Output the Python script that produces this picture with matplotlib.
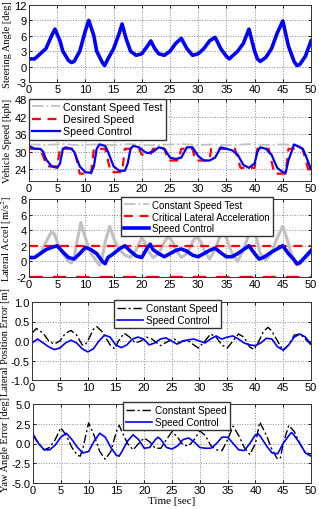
import matplotlib
matplotlib.use("Agg")
import matplotlib.pyplot as plt

plt.rcParams["font.family"] = "Liberation Sans"
plt.rcParams["axes.unicode_minus"] = False
plt.rcParams["mathtext.fontset"] = "stix"

# steering angle [deg]
t_steer = [0, 1, 2, 3, 4, 4.6, 5.5, 6, 7, 7.5, 8, 9, 10, 10.6, 11.5, 12, 13, 13.4, 14, 15, 16, 16.5,
           17.2, 18, 19, 20, 21, 21.6, 22.3, 23, 24, 25, 26, 27, 28, 29, 30, 31, 32, 33, 34, 35,
           35.5, 36, 37, 38, 39, 40, 40.5, 41, 42, 43, 44, 45, 46, 47, 47.5, 48, 49, 50]
steer = [1.5, 1.5, 2.5, 3.5, 6, 7.3, 5, 3, 1.2, 0.8, 1.0, 3, 7, 9, 6, 3, 0.8, 0.2, 1.5, 3.5, 6.5, 8.3,
         5.5, 3, 2.2, 2.5, 4, 5, 3.5, 2.5, 2.2, 3, 4.5, 5.5, 3.5, 2.2, 2.5, 3.5, 5, 5.7, 3.5, 2,
         1.5, 2, 3, 4.5, 7.3, 3, 1.5, 1.0, 1.8, 3.5, 6.5, 8.9, 4, 1, 0.2, 0.4, 2, 5]

# vehicle speed [kph]
t_const = [0, 3, 6, 9, 12, 15, 18, 21, 24, 27, 30, 33, 36, 39, 42, 45, 48, 49, 50]
v_const = [32.5, 32.3, 32.6, 32.2, 32.5, 32.3, 32.6, 32.2, 32.4, 32.6, 32.3, 32.5, 32.2, 32.6, 32.3, 32.5, 32.2, 30, 22]

t_des = [0, 2, 3.2, 5, 5.5, 8, 9, 11, 11.5, 13.5, 14.5, 16.5, 17, 19.5, 20, 21.5, 22, 24, 24.7, 26.5,
         27, 29, 29.5, 32, 32.3, 36.5, 37.5, 40, 40.5, 42.5, 43.5, 45.5, 46, 48.5, 49.5, 50]
v_des = [31, 31, 25, 25, 31, 31, 22.5, 22.5, 31, 31, 23, 23, 31, 31, 29, 29, 31, 31, 27, 27,
         31, 31, 27, 27, 31, 31, 24.5, 24.5, 31, 31, 22.5, 22.5, 31, 31, 24, 24]

t_ctrl = [0, 1, 2, 2.5, 3, 4, 5, 5.5, 6, 6.5, 7.5, 8, 9, 10, 11, 11.5, 12, 12.5, 13.5, 14, 15, 16, 17,
          17.5, 18, 18.5, 19.5, 20.5, 21, 22, 23, 24, 25, 26, 27, 28, 29, 30, 31, 32, 33, 34, 35,
          36, 37, 38, 39, 40, 40.5, 41, 42, 43, 44, 45, 45.5, 46, 47, 48, 48.5, 49, 50]
v_ctrl = [32, 31, 31, 30, 27.5, 25, 24.5, 26, 31, 31.5, 31, 30, 25, 23, 22.8, 25, 31, 32.5, 32, 30, 25, 23.5, 23.5,
          26, 31, 32, 31.5, 30, 29.5, 30, 31.5, 31, 28, 27.5, 28, 31.5, 31.5, 28.5, 27, 27, 28, 31.5, 31,
          30.5, 29, 25.5, 24.5, 26, 30, 31.5, 31, 29, 24.5, 23, 22.8, 27, 32.5, 31.5, 31, 29, 24]

# lateral acceleration [m/s^2]
t_acc_c = [0, 1, 2, 3, 4, 4.5, 5, 6, 7, 7.5, 8, 8.5, 9.2, 10, 11, 12, 12.5, 13, 13.5, 14.3, 15, 16, 17,
           18, 19, 20, 20.5, 21, 22, 23, 24, 24.7, 25.5, 26, 27, 28, 29, 29.7, 30.5, 31, 32, 33, 34,
           34.5, 35, 36, 37, 38, 39, 39.7, 40.5, 41, 42, 43, 44, 45, 45.7, 46.5, 47.5, 48, 49, 50]
acc_c = [0.3, 0.5, 1, 2.5, 3.8, 3.5, 2.5, 1, 0, -0.2, 0.5, 2.5, 5, 3, 1, 0, -0.5, 0.5, 2.5, 4.5, 3, 1.5, 0.8,
         0.5, 1.5, 3, 2.5, 1.5, 0.5, 1, 2.5, 3.2, 2.5, 1.5, 0.5, 1, 2.5, 3.2, 2.5, 1.5, 0.3, 1.5, 3.5,
         4.2, 3, 1, 0, 1.5, 3.5, 4.8, 2.5, 1, 0.2, 1, 3, 4.5, 3, 1, -0.5, 0, 0.5, 1]
t_acc = [0, 1, 2, 3, 4, 5, 6, 7, 8, 9, 10, 11, 12, 13, 13.5, 14, 15, 16, 17, 18, 19, 20, 21, 21.5, 22,
         23, 24, 25, 26, 27, 28, 29, 30, 31, 32, 33, 34, 35, 36, 37, 38, 39, 40, 40.8, 41.5, 42, 43,
         44, 45, 46, 47, 47.5, 48, 49, 50]
acc = [0.5, 0.5, 1, 1.5, 1.8, 2, 1.2, 0.5, 0.3, 1, 1.8, 1.5, 1, 0, -0.3, 0.5, 1, 1.6, 2, 1.3, 0.7, 0.5, 1.8, 2.2, 1.5,
       1, 0.6, 1, 1.4, 1.6, 1.3, 0.8, 0.6, 1, 1.4, 1.7, 1.1, 0.6, 0.6, 1, 1.5, 2, 1, 0.3, 0.5, 0.7, 1.2,
       1.6, 2, 1, 0.2, -0.3, -0.2, 0.6, 1.4]
acc_crit = 2.0

# lateral position error [m]
t_lpe_c = [0, 0.8, 2, 3, 4, 5, 6, 7, 8, 9, 9.5, 10, 11, 11.6, 12.5, 14, 14.8, 15.5, 16.5, 17.5, 18.5, 19.5,
           20.5, 21.5, 23, 24.5, 25.5, 26.5, 27, 28, 29, 29.8, 31, 32, 33, 34, 35, 36, 37, 38, 39, 39.8,
           40.5, 41.5, 42.3, 43, 44, 45, 46, 47, 48, 49, 50]
lpe_c = [0.2, 0.32, 0.2, 0, -0.08, 0, 0.2, 0.27, 0.15, -0.1, -0.1, 0, 0.3, 0.37, 0.25, -0.1, -0.2, 0, 0.2, 0.1, -0.05, 0,
         0.1, 0.05, -0.12, 0, 0.05, -0.05, 0, 0, -0.1, -0.18, 0, 0.18, 0.1, -0.1, -0.18, 0, 0.18, 0.1, -0.15, -0.22,
         -0.05, 0.25, 0.35, 0.25, 0, -0.25, -0.1, 0.15, 0.18, 0.05, -0.1]
t_lpe = list(range(0, 51))
lpe = [-0.05, 0.05, -0.05, -0.15, -0.22, -0.18, -0.05, 0.02, -0.05, -0.2, -0.28, -0.2, 0, 0.15, 0.1, -0.1, -0.17,
       -0.1, 0.05, 0.1, 0.05, -0.1, -0.05, 0.05, 0.08, 0, -0.08, 0, 0.03, 0.05, 0, -0.05, 0.05, 0.13, 0.05, 0.1,
       0.13, 0.05, -0.05, -0.1, -0.12, -0.05, 0.07, 0.05, -0.15, -0.23, -0.1, 0.1, 0.18, 0.1, -0.08]

# yaw angle error [deg]
t_yaw_c = [0, 1, 2, 3, 4, 5, 6, 7, 8, 8.5, 9, 10, 11, 12, 13, 14, 15, 15.5, 16, 17, 18, 19, 20, 21, 22, 23,
           24, 25, 26, 27, 28, 29, 30, 31, 32, 33, 34, 35, 36, 37, 38, 39, 40, 40.8, 42, 43, 44, 44.5, 45,
           46, 47, 48, 49, 50]
yaw_c = [1, 0, -0.8, -0.5, 0.5, 2, 1, -0.5, -1.5, -1.6, -0.5, 2.6, 1, -1, -2, -1, 1.5, 2.3, 1.5, 0, -0.8, 0, 0.7, 0.2,
         -0.6, -0.6, 0.5, 1.5, 0.8, -0.2, -0.3, 0.5, 1.6, 1, -0.3, -0.8, -0.9, 0.5, 2.2, 1, -0.5, -1.4, 0, 2.7, 1,
         -0.8, -2, -1.8, 0, 2.3, 1.5, 0, -1.2, -1.3]
t_yaw = [0, 1, 2, 3, 4, 5, 6, 7, 8, 9, 10, 11, 12, 13, 14, 15, 15.5, 16, 17, 18, 19, 20, 21, 22, 22.5, 23, 24,
         25, 26, 27, 28, 29, 30, 31, 32, 33, 34, 35, 36, 37, 38, 39, 40, 40.5, 41, 42, 43, 44, 45, 46, 46.5,
         47, 48, 49, 50]
yaw = [1.2, 0, -0.8, -0.8, -0.2, 0.8, 1.3, 0.5, -0.5, -1.2, -1, 0.3, 1.3, 0.8, -0.5, -1.5, -1.6, -1, 0.3, 1.1, 0.5,
       -0.6, -0.5, 0.5, 0.8, 0.5, -0.5, -0.7, -0.3, 0.5, 0.7, 0.2, -0.5, -0.6, -0.6, 0, 0.8, 0.8, 0, -0.8, -0.9, 0,
       1.1, 1.2, 0.8, -0.3, -1.2, -1.3, 0, 1, 1.4, 1, 0, -1.2, -1.6]

W, H = 319, 510
fig = plt.figure(figsize=(W / 100, H / 100), dpi=100)


def make_ax(left, top, bottom, right=311):
    return fig.add_axes([left / W, (H - bottom) / H, (right - left) / W, (bottom - top) / H])


def style(ax, ylim, yticks, label, label_x, ytick_fmt=None):
    ax.set_xlim(0, 50)
    ax.set_xticks(range(0, 51, 5))
    ax.set_ylim(*ylim)
    ax.set_yticks(yticks)
    if ytick_fmt:
        ax.set_yticklabels([ytick_fmt % v for v in yticks])
    ax.tick_params(direction="in", top=True, right=True, labelsize=8, length=2.5, width=0.6, pad=1.5)
    ax.grid(True, color="#888888", linestyle=":", linewidth=0.7)
    for s in ax.spines.values():
        s.set_linewidth(0.7)
        s.set_color("#333333")
    ax.set_ylabel(label, family="Liberation Serif", fontsize=7.5)
    bb = ax.get_position()
    ax.yaxis.set_label_coords(label_x / W, (bb.y0 + bb.y1) / 2, transform=fig.transFigure)


def legend_kw(size):
    return dict(fontsize=size, fancybox=False, edgecolor="#333333", framealpha=1, borderpad=0.3,
                labelspacing=0.2, handlelength=2.6, handletextpad=0.3, borderaxespad=0)


ax1 = make_ax(29, 6, 83)
ax1.plot(t_steer, steer, color="#0000ff", lw=2.6)
style(ax1, (-3, 12), [-3, 0, 3, 6, 9, 12], "Steering Angle [deg]", 12)

ax2 = make_ax(29, 100, 182)
ax2.plot(t_const, v_const, color="#c0c0c0", lw=1.3, ls="-.", label="Constant Speed Test")
ax2.plot(t_des, v_des, color="#ff0000", lw=1.6, ls=(0, (4, 3)), label="Desired Speed")
ax2.plot(t_ctrl, v_ctrl, color="#0000ff", lw=1.6, label="Speed Control")
style(ax2, (20, 48), [24, 30, 36, 42, 48], "Vehicle Speed [kph]", 12)
ax2.legend(loc="upper left", **legend_kw(7.7))

ax3 = make_ax(29, 200, 278)
ax3.plot(t_acc_c, acc_c, color="#c0c0c0", lw=2.2, ls="-", label="Constant Speed Test")
ax3.axhline(acc_crit, color="#ff0000", lw=1.6, ls=(0, (4, 3)), label="Critical Lateral Acceleration")
ax3.axhline(-acc_crit, color="#ff0000", lw=2.4, ls=(0, (4, 3)))
ax3.plot(t_acc, acc, color="#0000ff", lw=2.6, label="Speed Control")
style(ax3, (-2, 8), [-2, 0, 2, 4, 6, 8], "Lateral Accel [m/s$^2$]", 14)
h, l = ax3.get_legend_handles_labels()
h[0] = plt.Line2D([], [], color="#c0c0c0", lw=1.3, ls="-.")
ax3.legend(h, l, loc="upper left", bbox_to_anchor=(0.327, 1.03), **legend_kw(7.0))

ax4 = make_ax(32, 303, 381)
ax4.plot(t_lpe_c, lpe_c, color="black", lw=1.0, ls=(0, (6, 2, 1.5, 2)), label="Constant Speed")
ax4.plot(t_lpe, lpe, color="#0000ff", lw=1.2, label="Speed Control")
style(ax4, (-1, 1), [-1.0, -0.5, 0.0, 0.5, 1.0], "Lateral Position Error [m]", 10, "%.1f")
ax4.legend(loc="upper left", bbox_to_anchor=(0.294, 1.02), **legend_kw(7.2))

ax5 = make_ax(33, 405, 484)
ax5.plot(t_yaw_c, yaw_c, color="black", lw=1.0, ls=(0, (6, 2, 1.5, 2)), label="Constant Speed")
ax5.plot(t_yaw, yaw, color="#0000ff", lw=1.2, label="Speed Control")
style(ax5, (-5, 5), [-5.0, -2.5, 0.0, 2.5, 5.0], "Yaw Angle Error [deg]", 10, "%.1f")
ax5.legend(loc="upper left", bbox_to_anchor=(0.325, 1.02), **legend_kw(7.2))
ax5.set_xlabel("Time [sec]", family="Liberation Serif", fontsize=8, labelpad=1)

fig.savefig("out.png", dpi=100)
